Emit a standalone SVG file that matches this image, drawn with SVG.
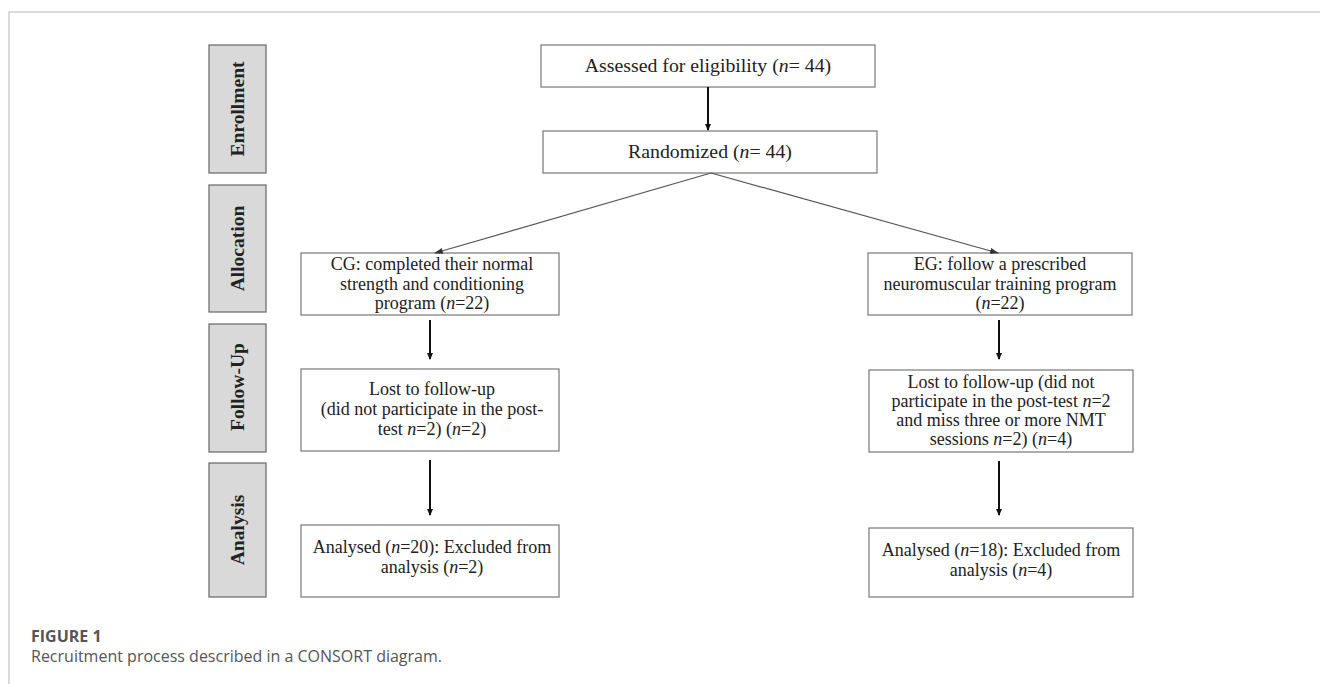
<svg xmlns="http://www.w3.org/2000/svg" width="1320" height="684" viewBox="0 0 1320 684">
<style>
.frame{stroke:#cfcfcf;stroke-width:1.5;fill:none}
.side{fill:#d9d9d9;stroke:#666;stroke-width:1.2}
.box{fill:#fff;stroke:#777;stroke-width:1.2}
.st{font-family:"Liberation Serif",serif;font-weight:bold;font-size:19.5px;fill:#222;text-anchor:middle}
.t{font-family:"Liberation Serif",serif;font-size:18px;fill:#222;text-anchor:middle}
.tl{font-family:"Liberation Serif",serif;font-size:19.8px;fill:#222;text-anchor:middle}
.arr{stroke:#111;stroke-width:2;fill:none;marker-end:url(#ah)}
.diag{stroke:#555;stroke-width:1.2;fill:none;marker-end:url(#ah2)}
.cap1{font-family:"Open Sans","Liberation Sans",sans-serif;font-weight:bold;font-size:16px;fill:#555}
.cap2{font-family:"Open Sans","Liberation Sans",sans-serif;font-size:16px;fill:#555}
</style>
<defs>
<marker id="ah" markerWidth="8" markerHeight="8" refX="6" refY="4" orient="auto" markerUnits="userSpaceOnUse">
<path d="M0,1 L7,4 L0,7 Z" fill="#111"/>
</marker>
<marker id="ah2" markerWidth="10" markerHeight="8" refX="8" refY="4" orient="auto" markerUnits="userSpaceOnUse">
<path d="M0,1 L9,4 L0,7 Z" fill="#333"/>
</marker>
</defs>
<path class="frame" d="M9,684 V12 H1320"/>

<g id="side-enrollment"><rect class="side" x="209" y="45" width="57" height="128"/><text class="st" transform="translate(244,109) rotate(-90)">Enrollment</text></g>
<g id="side-allocation"><rect class="side" x="209" y="185" width="57" height="127"/><text class="st" transform="translate(244,248.5) rotate(-90)">Allocation</text></g>
<g id="side-followup"><rect class="side" x="209" y="324" width="57" height="128"/><text class="st" transform="translate(244,387) rotate(-90)">Follow-Up</text></g>
<g id="side-analysis"><rect class="side" x="209" y="463" width="57" height="134"/><text class="st" transform="translate(244,530) rotate(-90)">Analysis</text></g>

<g id="assessed"><rect class="box" x="541" y="45" width="334" height="42"/><text class="tl" x="708" y="72">Assessed for eligibility  (<tspan font-style="italic">n</tspan>= 44)</text></g>
<g id="randomized"><rect class="box" x="543" y="131" width="334" height="42"/><text class="tl" x="710" y="158">Randomized (<tspan font-style="italic">n</tspan>= 44)</text></g>

<g id="cg"><rect class="box" x="301" y="253" width="258" height="62"/>
<text class="t" x="432" y="270">CG: completed their normal</text>
<text class="t" x="432" y="290">strength and conditioning</text>
<text class="t" x="432" y="309">program (<tspan font-style="italic">n</tspan>=22)</text></g>

<g id="eg"><rect class="box" x="868" y="253" width="264" height="62"/>
<text class="t" x="1000" y="270">EG: follow a prescribed</text>
<text class="t" x="1000" y="290">neuromuscular training program</text>
<text class="t" x="1000" y="309">(<tspan font-style="italic">n</tspan>=22)</text></g>

<g id="lost-cg"><rect class="box" x="301" y="369" width="258" height="82"/>
<text class="t" x="432" y="395">Lost to follow-up</text>
<text class="t" x="432" y="415">(did not participate in the post-</text>
<text class="t" x="432" y="435">test <tspan font-style="italic">n</tspan>=2) (<tspan font-style="italic">n</tspan>=2)</text></g>

<g id="lost-eg"><rect class="box" x="869" y="370" width="264" height="82"/>
<text class="t" x="1001" y="388">Lost to follow-up (did not</text>
<text class="t" x="1001" y="407">participate in the post-test <tspan font-style="italic">n</tspan>=2</text>
<text class="t" x="1001" y="426">and miss three or more NMT</text>
<text class="t" x="1001" y="445">sessions <tspan font-style="italic">n</tspan>=2) (<tspan font-style="italic">n</tspan>=4)</text></g>

<g id="analysed-cg"><rect class="box" x="301" y="525" width="258" height="72"/>
<text class="t" x="432" y="553">Analysed (<tspan font-style="italic">n</tspan>=20): Excluded from</text>
<text class="t" x="432" y="573">analysis (<tspan font-style="italic">n</tspan>=2)</text></g>

<g id="analysed-eg"><rect class="box" x="869" y="528" width="264" height="69"/>
<text class="t" x="1001" y="556">Analysed (<tspan font-style="italic">n</tspan>=18): Excluded from</text>
<text class="t" x="1001" y="576">analysis (<tspan font-style="italic">n</tspan>=4)</text></g>

<g id="connectors">
<line class="arr" x1="708" y1="87" x2="708" y2="130"/>
<line class="diag" x1="711" y1="173" x2="435" y2="253"/>
<line class="diag" x1="711" y1="173" x2="998" y2="253"/>
<line class="arr" x1="430" y1="320" x2="430" y2="359"/>
<line class="arr" x1="999" y1="320" x2="999" y2="359"/>
<line class="arr" x1="430" y1="460" x2="430" y2="515"/>
<line class="arr" x1="999" y1="461" x2="999" y2="515"/>
</g>

<text class="cap1" x="31" y="642">FIGURE 1</text>
<text class="cap2" x="31" y="662">Recruitment process described in a CONSORT diagram.</text>
</svg>
